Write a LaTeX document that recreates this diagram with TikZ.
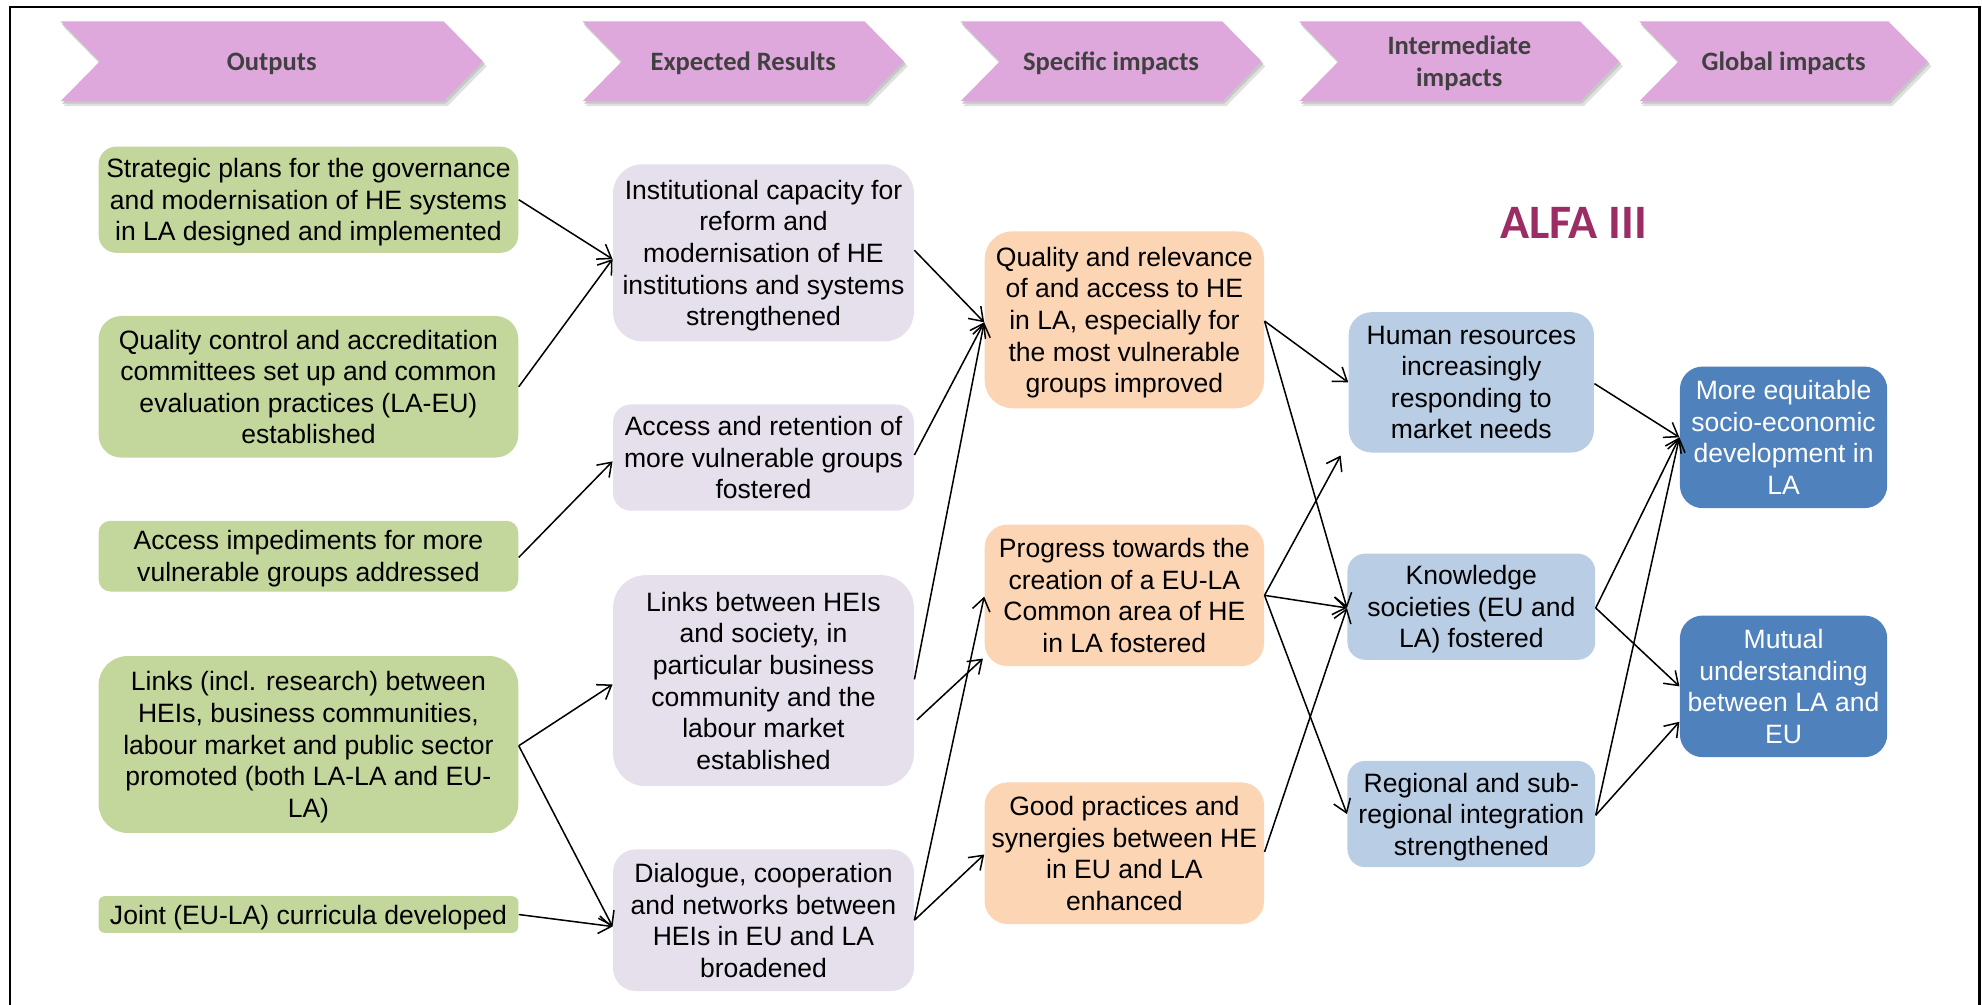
\documentclass[tikz,border=0pt]{standalone}
\usepackage{fontspec}
\setmainfont{Liberation Sans}
\newfontfamily\calibri{Carlito}
\usetikzlibrary{arrows.meta,calc}
\definecolor{hdr}{HTML}{DFA8DC}
\definecolor{hdrtxt}{HTML}{404040}
\definecolor{alfa}{HTML}{9B2D64}
\definecolor{cgreen}{HTML}{C3D69B}
\definecolor{clav}{HTML}{E5E0EC}
\definecolor{cpeach}{HTML}{FCD5B5}
\definecolor{clblue}{HTML}{B9CDE5}
\definecolor{cblue}{HTML}{4F81BD}
\begin{document}
\begin{tikzpicture}[x=0.5pt,y=-0.5pt,
  box/.style={align=center, inner sep=0pt, font=\fontsize{10.5}{12.5}\selectfont, text=black, text depth=0pt},
  gbox/.style={box, fill=cgreen, minimum width=166pt},
  lbox/.style={box, fill=clav, minimum width=119pt},
  obox/.style={box, fill=cpeach, minimum width=110.5pt},
  bbox/.style={box, fill=clblue, minimum width=97pt},
  dbox/.style={box, fill=cblue, minimum width=82pt, text=white},
  hdrtext/.style={align=center, inner sep=0pt, font=\calibri\bfseries\fontsize{10.5}{12.5}\selectfont, text=hdrtxt,
    execute at begin node={\rule{0pt}{10pt}}, execute at end node={\rule[-3pt]{0pt}{3pt}}},
  hdrtwo/.style={align=center, inner sep=0pt, font=\calibri\bfseries\fontsize{10.5}{12.5}\selectfont, text=hdrtxt, text depth=0pt},
  conn/.style={draw=black, line width=0.6pt, -{Straight Barb[length=5pt,width=7pt]}},
]
\useasboundingbox (0,0) rectangle (1568,795);
\fill[white] (0,0) rectangle (1568,795);
% frame
\draw[line width=0.9pt] (8,900) -- (8,5.5) -- (1566,5.5) -- (1566,900);
% header chevrons
\foreach \l/\r in {48/382, 461/715, 760/998, 1028/1281, 1297/1525} {
  \fill[black!12] (\l+2,21) -- (\r-31+3,21) -- (\r+3,52.5) -- (\r-31+3,84) -- (\l+2,84) -- (\l+33,52.5) -- cycle;
  \fill[black!22] (\l+1,19) -- (\r-31+1.5,19) -- (\r+1.5,50.5) -- (\r-31+1.5,82) -- (\l+1,82) -- (\l+32,50.5) -- cycle;
  \fill[hdr] (\l,17) -- (\r-31,17) -- (\r,48.5) -- (\r-31,80) -- (\l,80) -- (\l+31,48.5) -- cycle;
}
\node[hdrtext] (h1) at (215,48.5) {Outputs};
\node[hdrtext] (h2) at (588,48.5) {Expected Results};
\node[hdrtext] (h3) at (879,48.5) {Specific impacts};
\node[hdrtwo] (h4) at (1154.5,48.5) {Intermediate\\impacts};
\node[hdrtext] (h5) at (1411,48.5) {Global impacts};
\node[font=\calibri\bfseries\fontsize{19}{22}\selectfont, text=alfa, inner sep=0pt] (alfa) at (1245,176) {ALFA III};
% column 1
\node[gbox, minimum height=42pt, rounded corners=7pt] (G1) at (244,158) {Strategic plans for the governance\\and modernisation of HE systems\\in LA designed and implemented};
\node[gbox, minimum height=56pt, rounded corners=9pt] (G2) at (244,306) {Quality control and accreditation\\committees set up and common\\evaluation practices (LA-EU)\\established};
\node[gbox, minimum height=28pt, rounded corners=4.7pt] (G3) at (244,440) {Access impediments for more\\vulnerable groups addressed};
\node[gbox, minimum height=70pt, rounded corners=11.5pt] (G4) at (244,589) {Links (incl. research) between\\HEIs, business communities,\\labour market and public sector\\promoted (both LA-LA and EU-\\LA)};
\node[gbox, minimum height=14.5pt, rounded corners=2.4pt] (G5) at (244,723.5) {Joint (EU-LA) curricula developed};
% column 2
\node[lbox, minimum height=70pt, rounded corners=11.5pt] (L1) at (604,200) {Institutional capacity for\\reform and\\modernisation of HE\\institutions and systems\\strengthened};
\node[lbox, minimum height=42pt, rounded corners=7pt] (L2) at (604,362) {Access and retention of\\more vulnerable groups\\fostered};
\node[lbox, minimum height=83.5pt, rounded corners=13pt] (L3) at (604,538.5) {Links between HEIs\\and society, in\\particular business\\community and the\\labour market\\established};
\node[lbox, minimum height=56pt, rounded corners=9pt] (L4) at (604,728) {Dialogue, cooperation\\and networks between\\HEIs in EU and LA\\broadened};
% column 3
\node[obox, minimum height=70pt, rounded corners=11pt] (O1) at (889.5,253) {Quality and relevance\\of and access to HE\\in LA, especially for\\the most vulnerable\\groups improved};
\node[obox, minimum height=56pt, rounded corners=9pt] (O2) at (889.5,471) {Progress towards the\\creation of a EU-LA\\Common area of HE\\in LA fostered};
\node[obox, minimum height=56pt, rounded corners=9pt] (O3) at (889.5,675) {Good practices and\\synergies between HE\\in EU and LA\\enhanced};
% column 4
\node[bbox, minimum height=55.5pt, rounded corners=9pt] (B1) at (1164,302.5) {Human resources\\increasingly\\responding to\\market needs};
\node[bbox, minimum width=98pt, minimum height=42pt, rounded corners=7pt] (B2) at (1164,480) {Knowledge\\societies (EU and\\LA) fostered};
\node[bbox, minimum width=98pt, minimum height=42pt, rounded corners=7pt] (B3) at (1164,644) {Regional and sub-\\regional integration\\strengthened};
% column 5
\node[dbox, minimum height=56pt, rounded corners=9pt] (D1) at (1411,346) {More equitable\\socio-economic\\development in\\LA};
\node[dbox, minimum height=56pt, rounded corners=9pt] (D2) at (1411,543) {Mutual\\understanding\\between LA and\\EU};
% connectors
\draw[conn] (G1.east) -- ($(L1.west)+(0,5)$);
\draw[conn] (G2.east) -- ($(L1.west)+(0,5)$);
\draw[conn] ($(G3.east)+(0,1)$) -- ($(L2.west)+(0,3)$);
\draw[conn] ($(G4.east)+(0,1)$) -- ($(L3.west)+(0,3)$);
\draw[conn] ($(G4.east)+(0,1)$) -- ($(L4.west)+(0,5)$);
\draw[conn] (G5.east) -- ($(L4.west)+(0,5)$);
\draw[conn] ($(L1.east)+(0,-2)$) -- ($(O1.west)+(0,2)$);
\draw[conn] ($(L2.east)+(0,-2)$) -- ($(O1.west)+(0,2)$);
\draw[conn] ($(L3.east)+(0,-1)$) -- ($(O1.west)+(0,2)$);
\draw[conn] ($(L3.east)+(2,31)$) -- ($(O2.west)+(-1,50)$);
\draw[conn] (L4.east) -- ($(O2.west)+(0,1)$);
\draw[conn] (L4.east) -- ($(O3.west)+(0,1)$);
\draw[conn] ($(O1.east)+(0,1)$) -- (B1.west);
\draw[conn] ($(O1.east)+(0,1)$) -- ($(B2.west)+(0,1)$);
\draw[conn] (O2.east) -- ($(B1.south west)+(-6,2)$);
\draw[conn] (O2.east) -- ($(B2.west)+(0,1)$);
\draw[conn] (O2.east) -- (B3.west);
\draw[conn] ($(O3.east)+(0,-1)$) -- ($(B2.west)+(0,1)$);
\draw[conn] ($(B1.east)+(0,1)$) -- (D1.west);
\draw[conn] ($(B2.east)+(0,1)$) -- (D1.west);
\draw[conn] ($(B2.east)+(0,1)$) -- (D2.west);
\draw[conn] ($(B3.east)+(0,1)$) -- (D1.west);
\draw[conn] ($(B3.east)+(0,1)$) -- ($(D2.west)+(0,28)$);
\end{tikzpicture}
\end{document}
